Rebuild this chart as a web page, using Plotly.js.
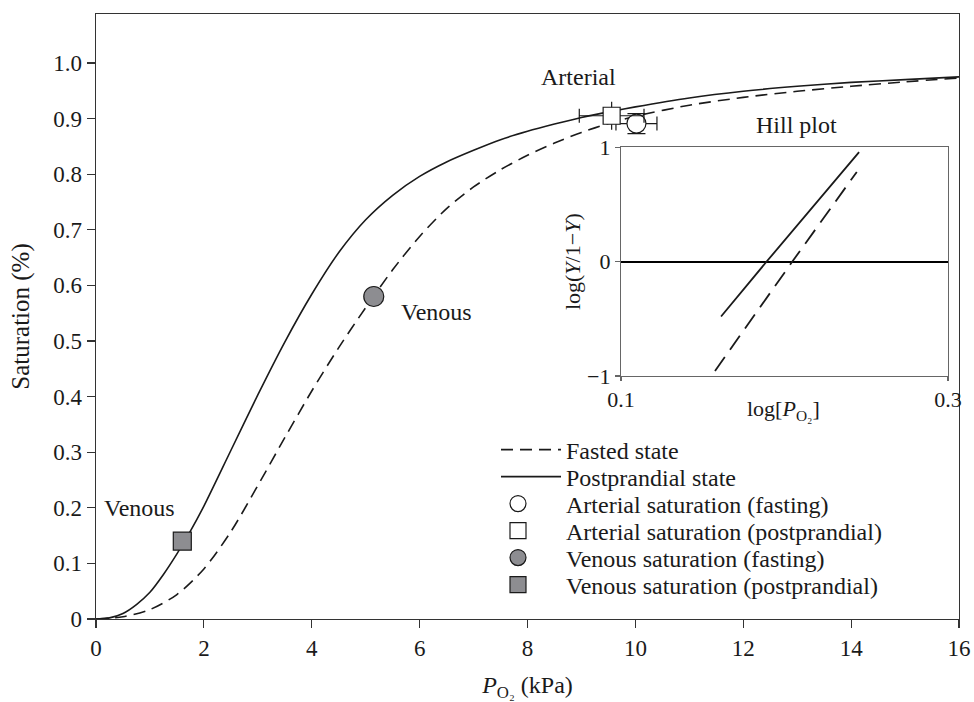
<!DOCTYPE html>
<html><head><meta charset="utf-8">
<script src="https://cdn.plot.ly/plotly-3.0.1.min.js"></script>
<style>html,body{margin:0;padding:0;background:#fff}#chart{width:974px;height:702px}</style>
</head><body><div id="chart"></div>
<script>
// ---- data ----
const fastedX = [0, 0.5, 1.0, 1.5, 2.0, 2.5, 3.0, 3.5, 4.0, 4.5, 5.0, 5.5, 6.0, 6.5, 7.0, 7.5, 8.0, 8.5, 9.0, 9.5, 10.0, 11.0, 12.0, 13.0, 14.0, 15.0, 16.0];
const fastedY = [0, 0.004, 0.017, 0.044, 0.090, 0.157, 0.240, 0.326, 0.410, 0.488, 0.560, 0.628, 0.688, 0.738, 0.777, 0.808, 0.834, 0.856, 0.875, 0.891, 0.904, 0.924, 0.938, 0.949, 0.958, 0.966, 0.973];
const postX = [0, 0.25, 0.5, 0.75, 1.0, 1.25, 1.5, 1.75, 2.0, 2.5, 3.0, 3.5, 4.0, 4.5, 5.0, 5.5, 6.0, 6.5, 7.0, 7.5, 8.0, 8.5, 9.0, 9.5, 10.0, 11.0, 12.0, 13.0, 14.0, 15.0, 16.0];
const postY = [0, 0.002, 0.010, 0.026, 0.048, 0.080, 0.117, 0.158, 0.203, 0.303, 0.403, 0.498, 0.584, 0.659, 0.718, 0.762, 0.796, 0.822, 0.843, 0.862, 0.877, 0.890, 0.902, 0.912, 0.921, 0.937, 0.949, 0.958, 0.965, 0.970, 0.975];

const arterialFastX = [10.02], arterialFastY = [0.891], arterialFastErrX = [0.38], arterialFastErrY = [0.018];
const arterialPostX = [9.56], arterialPostY = [0.905], arterialPostErrX = [0.6], arterialPostErrY = [0.025];
const venousFastX = [5.15], venousFastY = [0.58];
const venousPostX = [1.6], venousPostY = [0.14];

const hillFastedX = [0.1575, 0.2048, 0.2442], hillFastedY = [-0.956, 0, 0.783];
const hillPostX = [0.1612, 0.1891, 0.2456], hillPostY = [-0.48, 0, 0.956];

const yTickVals = [0, 0.1, 0.2, 0.3, 0.4, 0.5, 0.6, 0.7, 0.8, 0.9, 1.0];
const yTickText = ['0', '0.1', '0.2', '0.3', '0.4', '0.5', '0.6', '0.7', '0.8', '0.9', '1.0'];
const xTickVals = [0, 2, 4, 6, 8, 10, 12, 14, 16];
const hillYTickVals = [-1, 0, 1], hillYTickText = ['\u22121', '0', '1'];
const hillXTickVals = [0.1, 0.3], hillXTickText = ['0.1', '0.3'];

const legendNames = ['Fasted state', 'Postprandial state', 'Arterial saturation (fasting)',
  'Arterial saturation (postprandial)', 'Venous saturation (fasting)', 'Venous saturation (postprandial)'];

// ---- styles ----
const ink = '#1a1a1a';
const grey = '#8d8d91';
const FONT = 'Liberation Serif, Times New Roman, serif';

const traces = [
  {x: fastedX, y: fastedY, mode: 'lines', name: legendNames[0], legend: 'legend',
   line: {color: ink, width: 1.6, dash: '12px,7px', shape: 'spline', smoothing: 0.8}},
  {x: postX, y: postY, mode: 'lines', name: legendNames[1], legend: 'legend2',
   line: {color: ink, width: 1.6, shape: 'spline', smoothing: 0.8}},
  {x: arterialFastX, y: arterialFastY, mode: 'markers', name: legendNames[2], legend: 'legend3',
   marker: {symbol: 'circle', size: 19, color: '#fff', line: {color: ink, width: 1.2}},
   error_x: {type: 'data', array: arterialFastErrX, visible: true, color: ink, thickness: 1.2, width: 7},
   error_y: {type: 'data', array: arterialFastErrY, visible: true, color: ink, thickness: 1.2, width: 9}},
  {x: arterialPostX, y: arterialPostY, mode: 'markers', name: legendNames[3], legend: 'legend4',
   marker: {symbol: 'square', size: 17, color: '#fff', line: {color: ink, width: 1.2}},
   error_x: {type: 'data', array: arterialPostErrX, visible: true, color: ink, thickness: 1.2, width: 7},
   error_y: {type: 'data', array: arterialPostErrY, visible: true, color: ink, thickness: 1.2, width: 0}},
  {x: venousFastX, y: venousFastY, mode: 'markers', name: legendNames[4], legend: 'legend5',
   marker: {symbol: 'circle', size: 20, color: grey, line: {color: ink, width: 1.2}}},
  {x: venousPostX, y: venousPostY, mode: 'markers', name: legendNames[5], legend: 'legend6',
   marker: {symbol: 'square', size: 18, color: grey, line: {color: ink, width: 1.2}}},
  {x: hillFastedX, y: hillFastedY, mode: 'lines', xaxis: 'x2', yaxis: 'y2', showlegend: false,
   line: {color: ink, width: 1.8, dash: '17px,9px'}},
  {x: hillPostX, y: hillPostY, mode: 'lines', xaxis: 'x2', yaxis: 'y2', showlegend: false,
   line: {color: ink, width: 1.8}}
];

const axisCommon = {showgrid: false, zeroline: false, showline: true, linecolor: '#333', linewidth: 1.3, mirror: true,
  ticks: 'outside', ticklen: 8, tickwidth: 1.2, tickcolor: '#333', tickfont: {size: 23, family: FONT, color: ink}};

// legend rows: one legend per entry so the row spacing can follow the reference
const rowPx = [450, 477, 504, 531, 558, 585];
const plotTop = 14, plotBottom = 619, plotLeft = 96, plotW = 863;
function legendAt(i, isLine) {
  const w = isLine ? 60 : 86;
  const left = isLine ? 496 : 470;
  return {x: (left - plotLeft) / plotW, y: (plotBottom - rowPx[i]) / (plotBottom - plotTop),
    xanchor: 'left', yanchor: 'middle', bgcolor: 'rgba(0,0,0,0)', borderwidth: 0,
    font: {size: 24, family: FONT, color: ink}, itemwidth: w};
}

const layout = {
  width: 974, height: 702,
  margin: {l: 96, r: 15, t: 14, b: 83},
  paper_bgcolor: '#fff', plot_bgcolor: '#fff',
  font: {family: FONT, color: ink, size: 24},
  showlegend: true,
  legend: legendAt(0, true),
  legend2: legendAt(1, true),
  legend3: legendAt(2, false),
  legend4: legendAt(3, false),
  legend5: legendAt(4, false),
  legend6: legendAt(5, false),
  xaxis: Object.assign({}, axisCommon, {domain: [0, 1], range: [0, 16], tickvals: xTickVals,
    title: {text: '<i>P</i><sub>O\u2082</sub> (kPa)', font: {size: 24, family: FONT, color: ink}, standoff: 16}}),
  yaxis: Object.assign({}, axisCommon, {domain: [0, 1], range: [0, 1.088], tickvals: yTickVals, ticktext: yTickText,
    title: {text: 'Saturation (%)', font: {size: 25, family: FONT, color: ink}, standoff: 16}}),
  xaxis2: Object.assign({}, axisCommon, {domain: [0.6083, 0.9873], anchor: 'y2', range: [0.1, 0.3],
    tickvals: hillXTickVals, ticktext: hillXTickText, ticklen: 4, linecolor: '#666', linewidth: 1.1, tickcolor: '#666',
    tickfont: {size: 22, family: FONT, color: ink}}),
  yaxis2: Object.assign({}, axisCommon, {domain: [0.4017, 0.780], anchor: 'x2', range: [-1, 1],
    tickvals: hillYTickVals, ticktext: hillYTickText, ticklen: 5, linecolor: '#666', linewidth: 1.1, tickcolor: '#666',
    tickfont: {size: 22, family: FONT, color: ink},
    zeroline: true, zerolinecolor: '#000', zerolinewidth: 2}),
  annotations: [
    {x: 8.94, y: 0.975, xref: 'x', yref: 'y', xanchor: 'center', yanchor: 'middle', text: 'Arterial', showarrow: false, font: {size: 24, family: FONT, color: ink}},
    {x: 6.32, y: 0.553, xref: 'x', yref: 'y', xanchor: 'center', yanchor: 'middle', text: 'Venous', showarrow: false, font: {size: 24, family: FONT, color: ink}},
    {x: 0.8, y: 0.2, xref: 'x', yref: 'y', xanchor: 'center', yanchor: 'middle', text: 'Venous', showarrow: false, font: {size: 24, family: FONT, color: ink}},
    {x: 0.812, y: 0.8165, xref: 'paper', yref: 'paper', xanchor: 'center', yanchor: 'middle', text: 'Hill plot', showarrow: false, font: {size: 24, family: FONT, color: ink}},
    {x: 0.5516, y: 0.590, xref: 'paper', yref: 'paper', xanchor: 'center', yanchor: 'middle', text: 'log(<i>Y</i>/1\u2212<i>Y</i>)', textangle: -90, showarrow: false, font: {size: 22, family: FONT, color: ink}},
    {x: 0.797, y: 0.3455, xref: 'paper', yref: 'paper', xanchor: 'center', yanchor: 'middle', text: 'log[<i>P</i><sub>O\u2082</sub>]', showarrow: false, font: {size: 22, family: FONT, color: ink}}
  ]
};

Plotly.newPlot('chart', traces, layout, {staticPlot: true, displayModeBar: false});
</script>
</body></html>
